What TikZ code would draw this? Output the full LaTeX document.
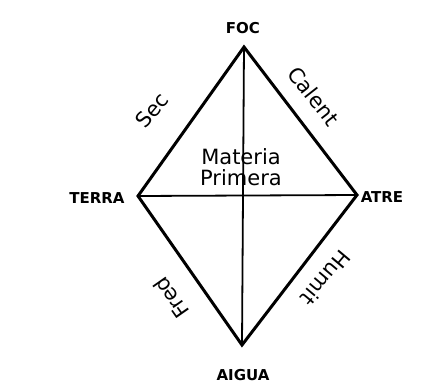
\documentclass[tikz,border=0pt]{standalone}
\usepackage{fontspec}
\setmainfont{DejaVu Sans}
\usetikzlibrary{positioning}

\begin{document}
\begin{tikzpicture}[
  x=1pt, y=-1pt,
  element/.style={font=\fontsize{15}{15}\selectfont\bfseries, inner sep=1pt},
  quality/.style={font=\fontsize{21}{21}\selectfont, inner sep=1pt},
  side/.style={line width=3pt, line join=miter},
  cross/.style={line width=1.8pt}
]
\useasboundingbox (0,0) rectangle (424,389);
\coordinate (n) at (244,47);
\coordinate (w) at (138,196);
\coordinate (e) at (357,195);
\coordinate (s) at (242,345);

\node[element] (foc) at (243,28) {FOC};
\node[element] (terra) at (97,198) {TERRA};
\node[element] (atre) at (382,197) {ATRE};
\node[element] (aigua) at (243,375) {AIGUA};

\draw[cross] (n) -- (s);
\draw[cross] (w) -- (e);
\draw[side] (n) -- (e) -- (s) -- (w) -- cycle;

\node[quality, rotate=50] (sec) at (152,110) {Sec};
\node[quality, rotate=-52] (calent) at (314,96) {Calent};
\node[quality, rotate=125] (fred) at (171,298) {Fred};
\node[quality, rotate=230] (humit) at (326,278) {Humit};
\node[quality, align=center] (materia) at (241,167) {Materia\\Primera};
\end{tikzpicture}
\end{document}
